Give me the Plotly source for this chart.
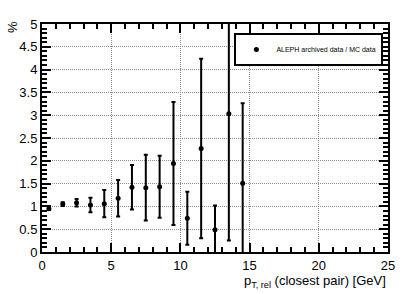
import plotly.graph_objects as go

x_centers = [0.5, 1.5, 2.5, 3.5, 4.5, 5.5, 6.5, 7.5, 8.5, 9.5, 10.5, 11.5, 12.5, 13.5, 14.5]
ratio = [0.95, 1.05, 1.08, 1.03, 1.06, 1.18, 1.42, 1.41, 1.43, 1.94, 0.74, 2.27, 0.49, 3.03, 1.51]
err = [0.03, 0.04, 0.08, 0.16, 0.30, 0.40, 0.49, 0.72, 0.68, 1.35, 0.58, 1.97, 0.53, 2.78, 1.75]

font = "Liberation Sans, Arial, Helvetica, sans-serif"

fig = go.Figure()
fig.add_trace(go.Scatter(
    x=x_centers, y=ratio, mode="markers",
    name="ALEPH archived data / MC data",
    marker=dict(color="black", size=5),
    error_y=dict(type="data", array=err, color="black", thickness=2, width=2),
    cliponaxis=True,
))

axis_common = dict(
    showline=True, linecolor="black", linewidth=2, mirror=True,
    ticks="inside", tickcolor="black", tickwidth=2,
    showgrid=True, gridcolor="#8c8c8c", griddash="1px,1px", gridwidth=1,
    zeroline=False, tickfont=dict(size=13, color="black", family=font),
)

fig.update_layout(
    xaxis=dict(range=[0, 25], tick0=0, dtick=5, ticklen=9,
               minor=dict(dtick=1, ticklen=5, tickcolor="black", showgrid=False, ticks="inside"),
               **axis_common),
    yaxis=dict(range=[0, 5], tick0=0, dtick=0.5, ticklen=9,
               minor=dict(dtick=0.1, ticklen=5, tickcolor="black", showgrid=False, ticks="inside"),
               **axis_common),
    xaxis2=dict(range=[0, 25], tick0=0, dtick=5, ticklen=9, overlaying="x", side="top",
                ticks="inside", tickcolor="black", tickwidth=2, showticklabels=False,
                showgrid=False, zeroline=False, matches="x",
                minor=dict(dtick=1, ticklen=5, tickcolor="black", ticks="inside")),
    yaxis2=dict(range=[0, 5], tick0=0, dtick=0.5, ticklen=9, overlaying="y", side="right",
                ticks="inside", tickcolor="black", tickwidth=2, showticklabels=False,
                showgrid=False, zeroline=False, matches="y",
                minor=dict(dtick=0.1, ticklen=5, tickcolor="black", ticks="inside")),
)

# invisible helper trace to activate the mirrored tick axes
fig.add_trace(go.Scatter(x=[None], y=[None], xaxis="x2", yaxis="y2",
                         showlegend=False, hoverinfo="skip"))

fig.update_layout(
    width=407, height=294,
    margin=dict(l=42, r=15, t=24, b=42),
    plot_bgcolor="white", paper_bgcolor="white",
    font=dict(family=font, color="black"),
    showlegend=True,
    legend=dict(x=0.556, y=0.96, xanchor="left", yanchor="top",
                bordercolor="black", borderwidth=2, bgcolor="white",
                font=dict(size=7, family=font)),
    annotations=[
        dict(text="p<sub>T, rel</sub> (closest pair) [GeV]", xref="paper", yref="paper",
             x=1.0, y=-0.085, xanchor="right", yanchor="top", showarrow=False,
             font=dict(size=13, family=font)),
        dict(text="%", xref="paper", yref="paper", x=-0.085, y=1.02, xanchor="center",
             yanchor="top", textangle=-90, showarrow=False, font=dict(size=13, family=font)),
    ],
)

fig.write_html("out.html", config={"displayModeBar": False},
               post_script="document.body.style.margin='0';")
